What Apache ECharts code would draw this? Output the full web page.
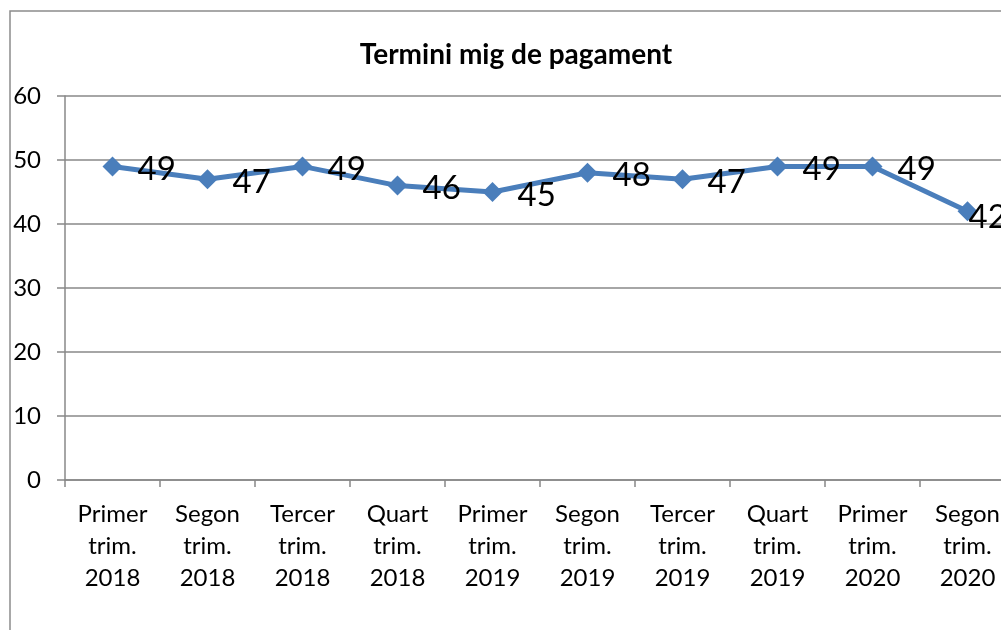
<!DOCTYPE html>
<html>
<head>
<meta charset="utf-8">
<script src="https://cdn.jsdelivr.net/npm/echarts@6/dist/echarts.min.js"></script>
<style>
  html, body { margin: 0; padding: 0; background: #fff; }
  #chart { width: 1001px; height: 630px; }
</style>
</head>
<body>
<div id="chart"></div>
<script>
var categories = [
  "Primer\ntrim.\n2018", "Segon\ntrim.\n2018", "Tercer\ntrim.\n2018", "Quart\ntrim.\n2018",
  "Primer\ntrim.\n2019", "Segon\ntrim.\n2019", "Tercer\ntrim.\n2019", "Quart\ntrim.\n2019",
  "Primer\ntrim.\n2020", "Segon\ntrim.\n2020"
];
var values = [49, 47, 49, 46, 45, 48, 47, 49, 49, 42];
var titleText = "Termini mig de pagament";

var myChart = echarts.init(document.getElementById("chart"));
var font = "Lato, 'Noto Sans', sans-serif";

// last label sits on top of its marker (pushed in by the right edge)
var seriesData = values.map(function (v, i) {
  if (i === values.length - 1) {
    return { value: v, label: { distance: -9, offset: [0, 6] } };
  }
  return v;
});

var option = {
  animation: false,
  title: {
    text: titleText,
    left: 511,
    top: 36,
    textAlign: "center",
    textStyle: { fontFamily: font, fontSize: 28, fontWeight: "bold", color: "#000" }
  },
  graphic: [
    {
      type: "rect",
      shape: { x: 10, y: 11, width: 1100, height: 700 },
      style: { fill: "none", stroke: "#8c8c8c", lineWidth: 1.5 },
      silent: true
    }
  ],
  grid: { left: 65, top: 96, width: 950, height: 384, outerBoundsMode: "none", containLabel: false },
  xAxis: {
    type: "category",
    data: categories,
    boundaryGap: true,
    axisLine: { lineStyle: { color: "#888", width: 1.5 } },
    axisTick: { show: true, length: 7, lineStyle: { color: "#888", width: 1.5 } },
    axisLabel: {
      interval: 0,
      margin: 18,
      lineHeight: 32,
      fontFamily: font,
      fontSize: 24,
      color: "#000"
    }
  },
  yAxis: {
    type: "value",
    min: 0,
    max: 60,
    interval: 10,
    axisLine: { show: true, lineStyle: { color: "#888", width: 1.5 } },
    axisTick: { show: true, length: 8, lineStyle: { color: "#888", width: 1.5 } },
    axisLabel: { margin: 24, fontFamily: font, fontSize: 24, color: "#000" },
    splitLine: { show: true, lineStyle: { color: "#888", width: 1.5 } }
  },
  series: [
    {
      type: "line",
      data: seriesData,
      symbol: "diamond",
      symbolSize: 20,
      lineStyle: { color: "#4a7ebb", width: 5 },
      itemStyle: { color: "#4a7ebb" },
      label: {
        show: true,
        position: "right",
        distance: 15,
        offset: [0, 3],
        fontFamily: font,
        fontSize: 33,
        color: "#000"
      }
    }
  ]
};
myChart.setOption(option);
</script>
</body>
</html>
